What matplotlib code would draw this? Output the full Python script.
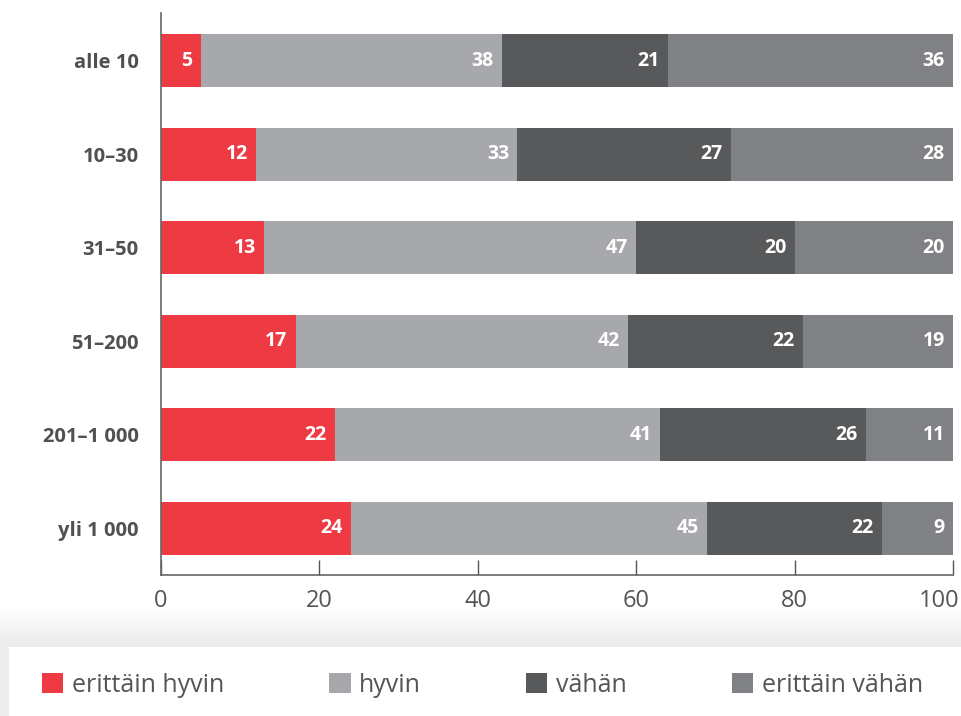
import matplotlib
matplotlib.use("Agg")
import matplotlib.pyplot as plt
import matplotlib.transforms as mtransforms
import numpy as np
from matplotlib.patches import Rectangle

plt.rcParams["font.family"] = ["Open Sans", "DejaVu Sans"]

# data
categories = ["alle 10", "10–30", "31–50", "51–200", "201–1 000", "yli 1 000"]
series_names = ["erittäin hyvin", "hyvin", "vähän", "erittäin vähän"]
erittain_hyvin = [5, 12, 13, 17, 22, 24]
hyvin = [38, 33, 47, 42, 41, 45]
vahan = [21, 27, 20, 22, 26, 22]
erittain_vahan = [36, 28, 20, 19, 11, 9]
x_ticks = [0, 20, 40, 60, 80, 100]

COLORS = ["#EE3A43", "#A7A8AB", "#58595B", "#808184"]
TEXT_DARK = "#505052"

W, H = 961, 716
fig = plt.figure(figsize=(W / 100, H / 100), dpi=100)

# legend background: soft shadow band above a white box
band_top = 605
bg = fig.add_axes([0, 0, 1, (H - band_top) / H], zorder=0)
rows = H - band_top
shade = np.ones(rows)
ramp = 647 - band_top
shade[:ramp] = np.linspace(1.0, 0.92, ramp)
shade[ramp:] = 0.93
img = np.repeat(shade.reshape(-1, 1, 1), 3, axis=2)
bg.imshow(img, extent=(0, 1, 0, 1), aspect="auto", interpolation="bilinear")
bg.add_patch(Rectangle((9 / W, 0), 1, (H - 647) / rows,
                       facecolor="white", edgecolor="none",
                       transform=bg.transAxes))
bg.set_xlim(0, 1)
bg.set_ylim(0, 1)
bg.axis("off")

ax = fig.add_axes([161 / W, 1 - 575 / H, (953 - 161) / W, (575 - 13) / H], zorder=1)

y = np.arange(len(categories))
series = [erittain_hyvin, hyvin, vahan, erittain_vahan]
left = np.zeros(len(categories))
handles = []
for name, vals, color in zip(series_names, series, COLORS):
    vals = np.array(vals, dtype=float)
    bars = ax.barh(y, vals, left=left, height=0.565, color=color,
                   edgecolor="none", label=name)
    handles.append(bars)
    for yi, l, v in zip(y, left, vals):
        ax.annotate(f"{int(v)}", xy=(l + v, yi), xytext=(-6, 0),
                    textcoords="offset points", ha="right", va="center",
                    color="white", fontsize=14, fontweight="bold")
    left += vals

ax.set_xlim(0, 100)
ax.set_ylim(len(categories) - 0.5, -0.51)
ax.set_xticks(x_ticks)
ax.set_xticklabels([str(t) for t in x_ticks])
ax.set_yticks(y)
ax.set_yticklabels(categories)
ax.tick_params(axis="x", direction="in", length=11, width=1, color="#555555",
               labelsize=17, labelcolor="#555555", pad=10)
ax.tick_params(axis="y", length=0, pad=16, labelsize=14.5, labelcolor=TEXT_DARK)
for lbl in ax.get_yticklabels():
    lbl.set_fontweight("bold")
# keep the last tick label inside the figure
last = ax.get_xticklabels()[-1]
last.set_horizontalalignment("right")
last.set_transform(last.get_transform() +
                   mtransforms.ScaledTranslation(6 / 100, 0, fig.dpi_scale_trans))
for side in ["top", "right"]:
    ax.spines[side].set_visible(False)
for side in ["left", "bottom"]:
    ax.spines[side].set_color("#666666")
    ax.spines[side].set_linewidth(1.2)

leg = fig.legend(handles=handles, labels=series_names, ncol=4,
                 loc="center left", bbox_to_anchor=(42 / W, 1 - 685 / H),
                 frameon=False, fontsize=18, handlelength=0.85,
                 handleheight=0.85, handletextpad=0.35, columnspacing=4.2,
                 borderpad=0, borderaxespad=0)
for t in leg.get_texts():
    t.set_color("#555555")

fig.savefig("out.png", dpi=100)
